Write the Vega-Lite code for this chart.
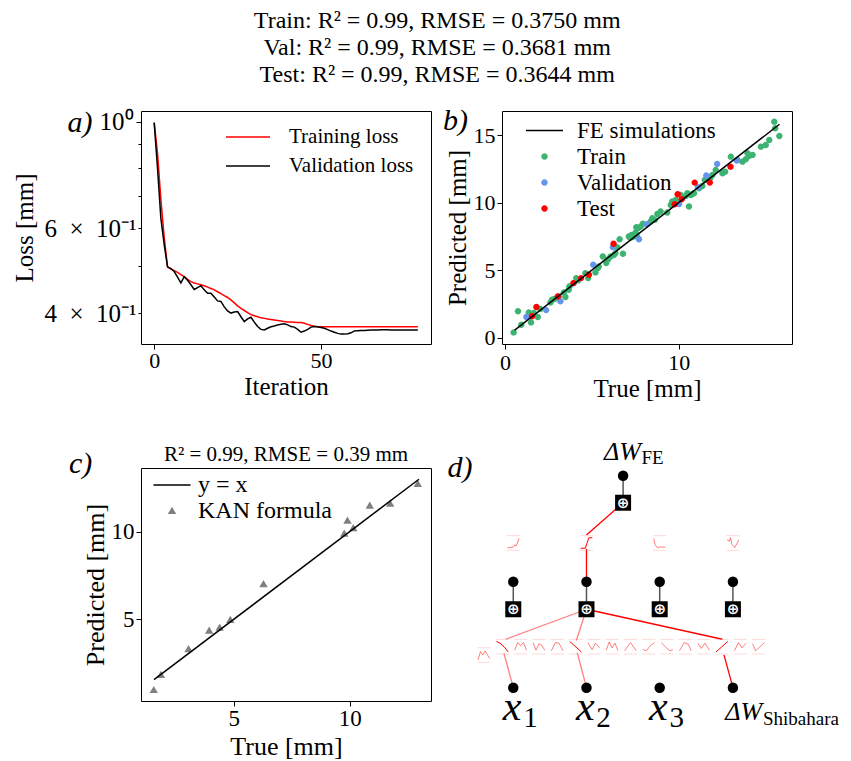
{
"$schema":"https://vega.github.io/schema/vega-lite/v6.json",
"padding":{"left":11,"top":9,"right":5,"bottom":5},
"title":{"text":["Train: R² = 0.99, RMSE = 0.3750 mm","Val: R² = 0.99, RMSE = 0.3681 mm","Test: R² = 0.99, RMSE = 0.3644 mm"],"font":"Liberation Serif","fontSize":24,"fontWeight":"normal","lineHeight":27,"anchor":"middle","offset":18,"dx":12,"color":"#000"},
"columns":2,
"spacing":{"row":124,"column":71},
"bounds":"flush",
"resolve":{"scale":{"x":"independent","y":"independent","color":"independent","shape":"independent","opacity":"independent"},"legend":{"color":"independent","shape":"independent"}},
"datasets":{
"loss":[
{"iter":0,"loss":0.995,"series":"Training loss"},{"iter":1,"loss":0.86,"series":"Training loss"},{"iter":2,"loss":0.69,"series":"Training loss"},{"iter":3,"loss":0.575,"series":"Training loss"},{"iter":4,"loss":0.499,"series":"Training loss"},{"iter":5,"loss":0.494,"series":"Training loss"},{"iter":6,"loss":0.49,"series":"Training loss"},{"iter":7,"loss":0.486,"series":"Training loss"},{"iter":8,"loss":0.481,"series":"Training loss"},{"iter":9,"loss":0.476,"series":"Training loss"},
{"iter":10,"loss":0.47,"series":"Training loss"},{"iter":11,"loss":0.465,"series":"Training loss"},{"iter":12,"loss":0.462,"series":"Training loss"},{"iter":13,"loss":0.46,"series":"Training loss"},{"iter":14,"loss":0.458,"series":"Training loss"},{"iter":15,"loss":0.456,"series":"Training loss"},{"iter":16,"loss":0.453,"series":"Training loss"},{"iter":17,"loss":0.45,"series":"Training loss"},{"iter":18,"loss":0.447,"series":"Training loss"},{"iter":19,"loss":0.443,"series":"Training loss"},
{"iter":20,"loss":0.439,"series":"Training loss"},{"iter":21,"loss":0.435,"series":"Training loss"},{"iter":22,"loss":0.431,"series":"Training loss"},{"iter":23,"loss":0.426,"series":"Training loss"},{"iter":24,"loss":0.42,"series":"Training loss"},{"iter":25,"loss":0.414,"series":"Training loss"},{"iter":26,"loss":0.409,"series":"Training loss"},{"iter":27,"loss":0.405,"series":"Training loss"},{"iter":28,"loss":0.401,"series":"Training loss"},{"iter":29,"loss":0.397,"series":"Training loss"},
{"iter":30,"loss":0.395,"series":"Training loss"},{"iter":31,"loss":0.393,"series":"Training loss"},{"iter":32,"loss":0.391,"series":"Training loss"},{"iter":33,"loss":0.39,"series":"Training loss"},{"iter":34,"loss":0.389,"series":"Training loss"},{"iter":35,"loss":0.388,"series":"Training loss"},{"iter":36,"loss":0.387,"series":"Training loss"},{"iter":37,"loss":0.386,"series":"Training loss"},{"iter":38,"loss":0.385,"series":"Training loss"},{"iter":39,"loss":0.384,"series":"Training loss"},
{"iter":40,"loss":0.3835,"series":"Training loss"},{"iter":41,"loss":0.3832,"series":"Training loss"},{"iter":42,"loss":0.383,"series":"Training loss"},{"iter":43,"loss":0.3826,"series":"Training loss"},{"iter":44,"loss":0.3822,"series":"Training loss"},{"iter":45,"loss":0.381,"series":"Training loss"},{"iter":46,"loss":0.379,"series":"Training loss"},{"iter":47,"loss":0.377,"series":"Training loss"},{"iter":48,"loss":0.3757,"series":"Training loss"},{"iter":49,"loss":0.3749,"series":"Training loss"},
{"iter":50,"loss":0.3746,"series":"Training loss"},{"iter":51,"loss":0.3746,"series":"Training loss"},{"iter":52,"loss":0.3746,"series":"Training loss"},{"iter":53,"loss":0.3746,"series":"Training loss"},{"iter":54,"loss":0.3746,"series":"Training loss"},{"iter":55,"loss":0.3746,"series":"Training loss"},{"iter":56,"loss":0.3747,"series":"Training loss"},{"iter":57,"loss":0.3747,"series":"Training loss"},{"iter":58,"loss":0.3747,"series":"Training loss"},{"iter":59,"loss":0.3747,"series":"Training loss"},
{"iter":60,"loss":0.3748,"series":"Training loss"},{"iter":61,"loss":0.3748,"series":"Training loss"},{"iter":62,"loss":0.3748,"series":"Training loss"},{"iter":63,"loss":0.3748,"series":"Training loss"},{"iter":64,"loss":0.3748,"series":"Training loss"},{"iter":65,"loss":0.3748,"series":"Training loss"},{"iter":66,"loss":0.3748,"series":"Training loss"},{"iter":67,"loss":0.3748,"series":"Training loss"},{"iter":68,"loss":0.3748,"series":"Training loss"},{"iter":69,"loss":0.3748,"series":"Training loss"},
{"iter":70,"loss":0.3748,"series":"Training loss"},{"iter":71,"loss":0.3748,"series":"Training loss"},{"iter":72,"loss":0.3748,"series":"Training loss"},{"iter":73,"loss":0.3748,"series":"Training loss"},{"iter":74,"loss":0.3748,"series":"Training loss"},{"iter":75,"loss":0.3748,"series":"Training loss"},{"iter":76,"loss":0.3748,"series":"Training loss"},{"iter":77,"loss":0.3748,"series":"Training loss"},{"iter":78,"loss":0.3748,"series":"Training loss"},{"iter":79,"loss":0.3748,"series":"Training loss"},
{"iter":0,"loss":0.995,"series":"Validation loss"},{"iter":1,"loss":0.8,"series":"Validation loss"},{"iter":2,"loss":0.63,"series":"Validation loss"},{"iter":3,"loss":0.555,"series":"Validation loss"},{"iter":4,"loss":0.499,"series":"Validation loss"},{"iter":5,"loss":0.495,"series":"Validation loss"},{"iter":6,"loss":0.488,"series":"Validation loss"},{"iter":7,"loss":0.475,"series":"Validation loss"},{"iter":8,"loss":0.462,"series":"Validation loss"},{"iter":9,"loss":0.476,"series":"Validation loss"},
{"iter":10,"loss":0.468,"series":"Validation loss"},{"iter":11,"loss":0.458,"series":"Validation loss"},{"iter":12,"loss":0.448,"series":"Validation loss"},{"iter":13,"loss":0.452,"series":"Validation loss"},{"iter":14,"loss":0.456,"series":"Validation loss"},{"iter":15,"loss":0.447,"series":"Validation loss"},{"iter":16,"loss":0.44,"series":"Validation loss"},{"iter":17,"loss":0.44,"series":"Validation loss"},{"iter":18,"loss":0.432,"series":"Validation loss"},{"iter":19,"loss":0.424,"series":"Validation loss"},
{"iter":20,"loss":0.423,"series":"Validation loss"},{"iter":21,"loss":0.412,"series":"Validation loss"},{"iter":22,"loss":0.404,"series":"Validation loss"},{"iter":23,"loss":0.4,"series":"Validation loss"},{"iter":24,"loss":0.402,"series":"Validation loss"},{"iter":25,"loss":0.403,"series":"Validation loss"},{"iter":26,"loss":0.393,"series":"Validation loss"},{"iter":27,"loss":0.384,"series":"Validation loss"},{"iter":28,"loss":0.389,"series":"Validation loss"},{"iter":29,"loss":0.392,"series":"Validation loss"},
{"iter":30,"loss":0.383,"series":"Validation loss"},{"iter":31,"loss":0.375,"series":"Validation loss"},{"iter":32,"loss":0.37,"series":"Validation loss"},{"iter":33,"loss":0.369,"series":"Validation loss"},{"iter":34,"loss":0.372,"series":"Validation loss"},{"iter":35,"loss":0.3746,"series":"Validation loss"},{"iter":36,"loss":0.376,"series":"Validation loss"},{"iter":37,"loss":0.378,"series":"Validation loss"},{"iter":38,"loss":0.379,"series":"Validation loss"},{"iter":39,"loss":0.38,"series":"Validation loss"},
{"iter":40,"loss":0.378,"series":"Validation loss"},{"iter":41,"loss":0.375,"series":"Validation loss"},{"iter":42,"loss":0.374,"series":"Validation loss"},{"iter":43,"loss":0.37,"series":"Validation loss"},{"iter":44,"loss":0.365,"series":"Validation loss"},{"iter":45,"loss":0.367,"series":"Validation loss"},{"iter":46,"loss":0.37,"series":"Validation loss"},{"iter":47,"loss":0.374,"series":"Validation loss"},{"iter":48,"loss":0.375,"series":"Validation loss"},{"iter":49,"loss":0.3745,"series":"Validation loss"},
{"iter":50,"loss":0.3733,"series":"Validation loss"},{"iter":51,"loss":0.372,"series":"Validation loss"},{"iter":52,"loss":0.3695,"series":"Validation loss"},{"iter":53,"loss":0.367,"series":"Validation loss"},{"iter":54,"loss":0.365,"series":"Validation loss"},{"iter":55,"loss":0.363,"series":"Validation loss"},{"iter":56,"loss":0.3617,"series":"Validation loss"},{"iter":57,"loss":0.3617,"series":"Validation loss"},{"iter":58,"loss":0.3625,"series":"Validation loss"},{"iter":59,"loss":0.364,"series":"Validation loss"},
{"iter":60,"loss":0.3672,"series":"Validation loss"},{"iter":61,"loss":0.3678,"series":"Validation loss"},{"iter":62,"loss":0.368,"series":"Validation loss"},{"iter":63,"loss":0.368,"series":"Validation loss"},{"iter":64,"loss":0.3683,"series":"Validation loss"},{"iter":65,"loss":0.3687,"series":"Validation loss"},{"iter":66,"loss":0.369,"series":"Validation loss"},{"iter":67,"loss":0.369,"series":"Validation loss"},{"iter":68,"loss":0.3692,"series":"Validation loss"},{"iter":69,"loss":0.3695,"series":"Validation loss"},
{"iter":70,"loss":0.3693,"series":"Validation loss"},{"iter":71,"loss":0.369,"series":"Validation loss"},{"iter":72,"loss":0.369,"series":"Validation loss"},{"iter":73,"loss":0.3688,"series":"Validation loss"},{"iter":74,"loss":0.3688,"series":"Validation loss"},{"iter":75,"loss":0.3687,"series":"Validation loss"},{"iter":76,"loss":0.3687,"series":"Validation loss"},{"iter":77,"loss":0.3687,"series":"Validation loss"},{"iter":78,"loss":0.3687,"series":"Validation loss"},{"iter":79,"loss":0.3687,"series":"Validation loss"}
],
"pred":[
{"t":0.5,"p":0.39,"set":"Train"},{"t":0.75,"p":1.95,"set":"Train"},{"t":0.94,"p":0.96,"set":"Train"},{"t":1.37,"p":1.87,"set":"Train"},{"t":1.5,"p":1.13,"set":"Train"},{"t":1.66,"p":1.82,"set":"Train"},{"t":1.89,"p":1.53,"set":"Train"},{"t":2.04,"p":2.12,"set":"Train"},{"t":2.62,"p":2.61,"set":"Train"},{"t":2.71,"p":2.81,"set":"Train"},
{"t":2.85,"p":2.86,"set":"Train"},{"t":3.1,"p":3.05,"set":"Train"},{"t":3.39,"p":3.35,"set":"Train"},{"t":3.48,"p":3.01,"set":"Train"},{"t":3.67,"p":3.55,"set":"Train"},{"t":3.71,"p":3.79,"set":"Train"},{"t":3.96,"p":4.04,"set":"Train"},{"t":4.1,"p":4.41,"set":"Train"},{"t":4.21,"p":4.24,"set":"Train"},{"t":4.63,"p":4.78,"set":"Train"},
{"t":4.79,"p":4.41,"set":"Train"},{"t":5.21,"p":4.83,"set":"Train"},{"t":5.35,"p":5.15,"set":"Train"},{"t":5.4,"p":5.27,"set":"Train"},{"t":5.63,"p":6.01,"set":"Train"},{"t":5.83,"p":5.52,"set":"Train"},{"t":5.94,"p":5.81,"set":"Train"},{"t":6.08,"p":6.01,"set":"Train"},{"t":6.27,"p":6.11,"set":"Train"},{"t":6.36,"p":6.26,"set":"Train"},
{"t":6.46,"p":6.7,"set":"Train"},{"t":6.6,"p":7.29,"set":"Train"},{"t":6.79,"p":6.21,"set":"Train"},{"t":7.13,"p":7.49,"set":"Train"},{"t":7.2,"p":7.4,"set":"Train"},{"t":7.29,"p":7.61,"set":"Train"},{"t":7.35,"p":7.45,"set":"Train"},{"t":7.42,"p":7.54,"set":"Train"},{"t":7.52,"p":7.79,"set":"Train"},{"t":7.56,"p":8.18,"set":"Train"},
{"t":7.6,"p":7.5,"set":"Train"},{"t":7.67,"p":8.11,"set":"Train"},{"t":7.81,"p":8.23,"set":"Train"},{"t":7.94,"p":8.43,"set":"Train"},{"t":8.38,"p":8.6,"set":"Train"},{"t":8.48,"p":8.84,"set":"Train"},{"t":8.63,"p":8.72,"set":"Train"},{"t":8.77,"p":9.16,"set":"Train"},{"t":8.96,"p":9.34,"set":"Train"},{"t":9.34,"p":9.26,"set":"Train"},
{"t":9.54,"p":9.83,"set":"Train"},{"t":9.63,"p":10.08,"set":"Train"},{"t":9.83,"p":10.2,"set":"Train"},{"t":10.11,"p":10.57,"set":"Train"},{"t":10.4,"p":10.49,"set":"Train"},{"t":10.5,"p":10.69,"set":"Train"},{"t":10.59,"p":9.71,"set":"Train"},{"t":10.69,"p":10.57,"set":"Train"},{"t":10.79,"p":10.64,"set":"Train"},{"t":10.88,"p":10.69,"set":"Train"},
{"t":11.17,"p":11.06,"set":"Train"},{"t":11.36,"p":11.23,"set":"Train"},{"t":11.5,"p":11.68,"set":"Train"},{"t":11.81,"p":11.8,"set":"Train"},{"t":11.94,"p":12.05,"set":"Train"},{"t":12.13,"p":12.42,"set":"Train"},{"t":12.52,"p":12.17,"set":"Train"},{"t":12.67,"p":12.29,"set":"Train"},{"t":13.0,"p":13.4,"set":"Train"},{"t":13.38,"p":13.16,"set":"Train"},
{"t":13.67,"p":13.03,"set":"Train"},{"t":13.86,"p":13.21,"set":"Train"},{"t":13.96,"p":13.65,"set":"Train"},{"t":14.05,"p":13.45,"set":"Train"},{"t":14.25,"p":13.53,"set":"Train"},{"t":14.73,"p":14.14,"set":"Train"},{"t":15.01,"p":14.26,"set":"Train"},{"t":15.21,"p":14.63,"set":"Train"},{"t":15.5,"p":15.99,"set":"Train"},{"t":15.55,"p":15.5,"set":"Train"},
{"t":15.79,"p":14.93,"set":"Train"},
{"t":1.23,"p":1.53,"set":"Validation"},{"t":2.37,"p":2.04,"set":"Validation"},{"t":3.19,"p":2.69,"set":"Validation"},{"t":5.08,"p":5.4,"set":"Validation"},{"t":6.21,"p":6.7,"set":"Validation"},{"t":7.71,"p":7.29,"set":"Validation"},{"t":8.17,"p":8.4,"set":"Validation"},{"t":10.02,"p":9.9,"set":"Validation"},{"t":11.11,"p":11.14,"set":"Validation"},{"t":11.59,"p":12.0,"set":"Validation"},{"t":12.21,"p":12.86,"set":"Validation"},{"t":13.34,"p":13.11,"set":"Validation"},
{"t":1.56,"p":1.58,"set":"Test"},{"t":1.81,"p":2.27,"set":"Test"},{"t":3.04,"p":3.05,"set":"Test"},{"t":3.94,"p":4.04,"set":"Test"},{"t":4.38,"p":4.41,"set":"Test"},{"t":4.83,"p":4.66,"set":"Test"},{"t":6.25,"p":6.95,"set":"Test"},{"t":9.77,"p":9.88,"set":"Test"},{"t":9.94,"p":10.62,"set":"Test"},{"t":10.17,"p":10.25,"set":"Test"},{"t":10.92,"p":11.48,"set":"Test"},{"t":11.79,"p":11.48,"set":"Test"},{"t":12.98,"p":12.66,"set":"Test"}
],
"feline":[{"t":0.56,"p":0.56},{"t":15.8,"p":15.8}],
"kan":[
{"t":1.55,"p":0.96,"set":"KAN formula"},{"t":1.86,"p":1.82,"set":"KAN formula"},{"t":3.05,"p":3.29,"set":"KAN formula"},{"t":3.94,"p":4.35,"set":"KAN formula"},{"t":4.39,"p":4.52,"set":"KAN formula"},{"t":4.85,"p":4.96,"set":"KAN formula"},{"t":6.28,"p":7.0,"set":"KAN formula"},{"t":9.76,"p":9.87,"set":"KAN formula"},{"t":9.9,"p":10.61,"set":"KAN formula"},{"t":10.15,"p":10.19,"set":"KAN formula"},{"t":10.86,"p":11.47,"set":"KAN formula"},{"t":11.74,"p":11.58,"set":"KAN formula"},{"t":12.93,"p":12.71,"set":"KAN formula"}
],
"kanline":[{"t":1.56,"p":1.56},{"t":12.98,"p":12.98}],
"clabels":[{"lx":-1.6,"ly":13.86,"lab":"c)","role":"panel"},{"lx":7.25,"ly":13.995,"lab":"R² = 0.99, RMSE = 0.39 mm","role":"title"}],
"edges":[
{"x":1.5,"y":1.745,"x2":1.0,"y2":1.44,"str":"strong"},
{"x":1.0,"y":1.31,"x2":1.0,"y2":1.0,"str":"strong"},
{"x":1.0,"y":0.74,"x2":-0.104,"y2":0.457,"str":"faint"},
{"x":1.0,"y":0.74,"x2":0.861,"y2":0.445,"str":"faint"},
{"x":1.0,"y":0.74,"x2":2.855,"y2":0.457,"str":"strong"},
{"x":-0.127,"y":0.325,"x2":0,"y2":0,"str":"faint"},
{"x":0.874,"y":0.33,"x2":1.0,"y2":0,"str":"faint"},
{"x":2.878,"y":0.31,"x2":3.0,"y2":0,"str":"strong"}
],
"iframes":[
{"xa":-0.09,"xb":0.09,"ya":1.296,"yb":1.434},{"xa":0.91,"xb":1.09,"ya":1.296,"yb":1.434},{"xa":1.91,"xb":2.09,"ya":1.296,"yb":1.434},{"xa":2.91,"xb":3.09,"ya":1.296,"yb":1.434},
{"xa":-0.49,"xb":-0.31,"ya":0.239,"yb":0.377},
{"xa":-0.24,"xb":-0.06,"ya":0.318,"yb":0.456},{"xa":0.01,"xb":0.19,"ya":0.318,"yb":0.456},{"xa":0.26,"xb":0.44,"ya":0.318,"yb":0.456},{"xa":0.51,"xb":0.69,"ya":0.318,"yb":0.456},{"xa":0.76,"xb":0.94,"ya":0.318,"yb":0.456},{"xa":1.01,"xb":1.19,"ya":0.318,"yb":0.456},{"xa":1.26,"xb":1.44,"ya":0.318,"yb":0.456},{"xa":1.51,"xb":1.69,"ya":0.318,"yb":0.456},{"xa":1.76,"xb":1.94,"ya":0.318,"yb":0.456},{"xa":2.01,"xb":2.19,"ya":0.318,"yb":0.456},{"xa":2.26,"xb":2.44,"ya":0.318,"yb":0.456},{"xa":2.51,"xb":2.69,"ya":0.318,"yb":0.456},{"xa":2.76,"xb":2.94,"ya":0.318,"yb":0.456},{"xa":3.01,"xb":3.19,"ya":0.318,"yb":0.456},{"xa":3.26,"xb":3.44,"ya":0.318,"yb":0.456}
],
"icons":[
{"icon":"H0","ord":0,"x":-0.08,"y":1.321,"str":"faint"},{"icon":"H0","ord":1,"x":0,"y":1.3265,"str":"faint"},{"icon":"H0","ord":2,"x":0.024,"y":1.3485,"str":"faint"},{"icon":"H0","ord":3,"x":0.04,"y":1.3375,"str":"faint"},{"icon":"H0","ord":4,"x":0.08,"y":1.409,"str":"faint"},
{"icon":"H1","ord":0,"x":0.92,"y":1.3155,"str":"strong"},{"icon":"H1","ord":1,"x":0.984,"y":1.3155,"str":"strong"},{"icon":"H1","ord":2,"x":1.032,"y":1.4145,"str":"strong"},{"icon":"H1","ord":3,"x":1.08,"y":1.4145,"str":"strong"},
{"icon":"H2","ord":0,"x":1.92,"y":1.409,"str":"faint"},{"icon":"H2","ord":1,"x":1.936,"y":1.3485,"str":"faint"},{"icon":"H2","ord":2,"x":1.968,"y":1.321,"str":"faint"},{"icon":"H2","ord":3,"x":2.0,"y":1.3265,"str":"faint"},{"icon":"H2","ord":4,"x":2.08,"y":1.3265,"str":"faint"},
{"icon":"H3","ord":0,"x":2.92,"y":1.398,"str":"faint"},{"icon":"H3","ord":1,"x":2.952,"y":1.3815,"str":"faint"},{"icon":"H3","ord":2,"x":2.968,"y":1.4145,"str":"faint"},{"icon":"H3","ord":3,"x":2.984,"y":1.354,"str":"faint"},{"icon":"H3","ord":4,"x":3.024,"y":1.321,"str":"faint"},{"icon":"H3","ord":5,"x":3.08,"y":1.3925,"str":"faint"},
{"icon":"k0","ord":0,"x":-0.48,"y":0.264,"str":"faint"},{"icon":"k0","ord":1,"x":-0.448,"y":0.341,"str":"faint"},{"icon":"k0","ord":2,"x":-0.416,"y":0.308,"str":"faint"},{"icon":"k0","ord":3,"x":-0.384,"y":0.3465,"str":"faint"},{"icon":"k0","ord":4,"x":-0.352,"y":0.308,"str":"faint"},{"icon":"k0","ord":5,"x":-0.32,"y":0.275,"str":"faint"},
{"icon":"k1","ord":0,"x":-0.23,"y":0.4365,"str":"strong"},{"icon":"k1","ord":1,"x":-0.182,"y":0.42,"str":"strong"},{"icon":"k1","ord":2,"x":-0.126,"y":0.387,"str":"strong"},{"icon":"k1","ord":3,"x":-0.07,"y":0.3375,"str":"strong"},
{"icon":"k2","ord":0,"x":0.02,"y":0.354,"str":"faint"},{"icon":"k2","ord":1,"x":0.06,"y":0.4255,"str":"faint"},{"icon":"k2","ord":2,"x":0.1,"y":0.398,"str":"faint"},{"icon":"k2","ord":3,"x":0.14,"y":0.4255,"str":"faint"},{"icon":"k2","ord":4,"x":0.18,"y":0.354,"str":"faint"},
{"icon":"k3","ord":0,"x":0.27,"y":0.4255,"str":"faint"},{"icon":"k3","ord":1,"x":0.31,"y":0.354,"str":"faint"},{"icon":"k3","ord":2,"x":0.35,"y":0.4145,"str":"faint"},{"icon":"k3","ord":3,"x":0.39,"y":0.398,"str":"faint"},{"icon":"k3","ord":4,"x":0.43,"y":0.354,"str":"faint"},
{"icon":"k4","ord":0,"x":0.52,"y":0.3485,"str":"faint"},{"icon":"k4","ord":1,"x":0.576,"y":0.4255,"str":"faint"},{"icon":"k4","ord":2,"x":0.624,"y":0.42,"str":"faint"},{"icon":"k4","ord":3,"x":0.68,"y":0.3485,"str":"faint"},
{"icon":"k5","ord":0,"x":0.77,"y":0.4365,"str":"strong"},{"icon":"k5","ord":1,"x":0.93,"y":0.3375,"str":"strong"},
{"icon":"k6","ord":0,"x":1.02,"y":0.4255,"str":"faint"},{"icon":"k6","ord":1,"x":1.076,"y":0.3595,"str":"faint"},{"icon":"k6","ord":2,"x":1.124,"y":0.42,"str":"faint"},{"icon":"k6","ord":3,"x":1.18,"y":0.376,"str":"faint"},
{"icon":"k7","ord":0,"x":1.27,"y":0.354,"str":"faint"},{"icon":"k7","ord":1,"x":1.31,"y":0.431,"str":"faint"},{"icon":"k7","ord":2,"x":1.35,"y":0.376,"str":"faint"},{"icon":"k7","ord":3,"x":1.39,"y":0.42,"str":"faint"},{"icon":"k7","ord":4,"x":1.43,"y":0.3485,"str":"faint"},
{"icon":"k8","ord":0,"x":1.52,"y":0.3485,"str":"faint"},{"icon":"k8","ord":1,"x":1.6,"y":0.4255,"str":"faint"},{"icon":"k8","ord":2,"x":1.68,"y":0.3485,"str":"faint"},
{"icon":"k9","ord":0,"x":1.77,"y":0.3595,"str":"faint"},{"icon":"k9","ord":1,"x":1.818,"y":0.3485,"str":"faint"},{"icon":"k9","ord":2,"x":1.874,"y":0.398,"str":"faint"},{"icon":"k9","ord":3,"x":1.93,"y":0.4255,"str":"faint"},
{"icon":"k10","ord":0,"x":2.02,"y":0.4255,"str":"faint"},{"icon":"k10","ord":1,"x":2.1,"y":0.3705,"str":"faint"},{"icon":"k10","ord":2,"x":2.14,"y":0.3485,"str":"faint"},{"icon":"k10","ord":3,"x":2.18,"y":0.3595,"str":"faint"},
{"icon":"k11","ord":0,"x":2.27,"y":0.3485,"str":"faint"},{"icon":"k11","ord":1,"x":2.334,"y":0.4255,"str":"faint"},{"icon":"k11","ord":2,"x":2.39,"y":0.409,"str":"faint"},{"icon":"k11","ord":3,"x":2.43,"y":0.3485,"str":"faint"},
{"icon":"k12","ord":0,"x":2.52,"y":0.42,"str":"faint"},{"icon":"k12","ord":1,"x":2.568,"y":0.3705,"str":"faint"},{"icon":"k12","ord":2,"x":2.616,"y":0.42,"str":"faint"},{"icon":"k12","ord":3,"x":2.68,"y":0.354,"str":"faint"},
{"icon":"k13","ord":0,"x":2.77,"y":0.3375,"str":"strong"},{"icon":"k13","ord":1,"x":2.93,"y":0.4365,"str":"strong"},
{"icon":"k14","ord":0,"x":3.02,"y":0.3485,"str":"faint"},{"icon":"k14","ord":1,"x":3.076,"y":0.4255,"str":"faint"},{"icon":"k14","ord":2,"x":3.124,"y":0.376,"str":"faint"},{"icon":"k14","ord":3,"x":3.18,"y":0.42,"str":"faint"},
{"icon":"k15","ord":0,"x":3.27,"y":0.4145,"str":"faint"},{"icon":"k15","ord":1,"x":3.31,"y":0.3485,"str":"faint"},{"icon":"k15","ord":2,"x":3.43,"y":0.4255,"str":"faint"}
],
"stems":[{"x":1.5,"y":2.0,"y2":1.745},{"x":0,"y":1.0,"y2":0.74},{"x":1,"y":1.0,"y2":0.74},{"x":2,"y":1.0,"y2":0.74},{"x":3,"y":1.0,"y2":0.74}],
"nodes":[{"x":1.5,"y":2.0},{"x":0,"y":1.0},{"x":1,"y":1.0},{"x":2,"y":1.0},{"x":3,"y":1.0},{"x":0,"y":0},{"x":1,"y":0},{"x":2,"y":0},{"x":3,"y":0}],
"boxes":[{"x":1.5,"y":1.745,"sym":"⊕"},{"x":0,"y":0.74,"sym":"⊕"},{"x":1,"y":0.74,"sym":"⊕"},{"x":2,"y":0.74,"sym":"⊕"},{"x":3,"y":0.74,"sym":"⊕"}],
"dlabels":[
{"x":0.11,"y":-0.305,"text":"x","role":"var"},{"x":1.11,"y":-0.305,"text":"x","role":"var"},{"x":2.11,"y":-0.305,"text":"x","role":"var"},
{"x":0.135,"y":-0.368,"text":"1","role":"sub"},{"x":1.135,"y":-0.368,"text":"2","role":"sub"},{"x":2.135,"y":-0.368,"text":"3","role":"sub"},
{"x":3.4,"y":-0.305,"text":"ΔW","role":"delta"},{"x":1.745,"y":2.148,"text":"ΔW","role":"delta"},
{"x":3.41,"y":-0.352,"text":"Shibahara","role":"subw"},{"x":1.75,"y":2.11,"text":"FE","role":"subw"},
{"x":-0.728,"y":2.073,"text":"d)","role":"panel"}
]
},
"concat":[
{
"width":290,"height":233,
"layer":[
{"data":{"name":"loss"},
"mark":{"type":"line","strokeWidth":1.5},
"encoding":{
"x":{"field":"iter","type":"quantitative","title":"Iteration","scale":{"domain":[-3.95,82.95],"nice":false,"zero":false},"axis":{"values":[0,50]}},
"y":{"field":"loss","type":"quantitative","title":"Loss [mm]","scale":{"type":"log","domain":[0.345,1.052],"nice":false},"axis":{"values":[0.4,0.5,0.6,0.7,0.8,0.9,1],"labelFontSize":25,"labelAlign":"left","titlePadding":7,"labelPadding":{"condition":{"test":"datum.value == 1","value":37},"value":94},"labelExpr":"datum.value == 1 ? '10⁰' : datum.value == 0.6 ? '6\u2002×\u200210⁻¹' : datum.value == 0.4 ? '4\u2002×\u200210⁻¹' : ''","tickSize":{"condition":{"test":"datum.value == 1","value":5},"value":3}}},
"color":{"field":"series","type":"nominal","scale":{"domain":["Training loss","Validation loss"],"range":["#ff0000","#000000"]},"legend":{"orient":"none","legendX":96,"legendY":15,"title":null,"symbolType":"M-2.2,0H2.2","symbolSize":400,"symbolStrokeWidth":1.5,"labelFontSize":21,"labelOffset":30,"rowPadding":8,"padding":0}}
}},
{"data":{"values":[{"lx":-22.2,"ly":0.9938,"lab":"a)"}]},
"mark":{"type":"text","fontSize":30,"fontStyle":"italic","font":"Liberation Serif","baseline":"middle","align":"center"},
"encoding":{"x":{"field":"lx","type":"quantitative","title":"Iteration"},"y":{"field":"ly","type":"quantitative","title":"Loss [mm]"},"text":{"field":"lab"}}}
]
},
{
"width":290,"height":233,
"layer":[
{"data":{"name":"pred"},
"mark":{"type":"point","filled":true,"opacity":1,"size":400,"strokeWidth":0},
"encoding":{
"x":{"field":"t","type":"quantitative","title":"True [mm]","scale":{"domain":[-0.17,16.52],"nice":false,"zero":false},"axis":{"values":[0,10],"labelPadding":3}},
"y":{"field":"p","type":"quantitative","title":"Predicted [mm]","scale":{"domain":[-0.47,16.78],"nice":false,"zero":false},"axis":{"values":[0,5,10,15]}},
"color":{"field":"set","type":"nominal","scale":{"domain":["FE simulations","Train","Validation","Test"],"range":["#000000","#3cb371","#6495ed","#ff0000"]},"legend":{"orient":"none","legendX":31,"legendY":8,"title":null,"symbolSize":400,"labelFontSize":23,"labelOffset":21,"rowPadding":2,"padding":0}},
"shape":{"field":"set","type":"nominal","scale":{"domain":["FE simulations","Train","Validation","Test"],"range":["M-1.85,-0.075H1.85V0.075H-1.85Z","M-0.32,0A0.32,0.32,0,1,1,0.32,0A0.32,0.32,0,1,1,-0.32,0Z","M-0.32,0A0.32,0.32,0,1,1,0.32,0A0.32,0.32,0,1,1,-0.32,0Z","M-0.32,0A0.32,0.32,0,1,1,0.32,0A0.32,0.32,0,1,1,-0.32,0Z"]},"legend":{"orient":"none","legendX":31,"legendY":8,"title":null,"symbolSize":400,"labelFontSize":23,"labelOffset":21,"rowPadding":2,"padding":0}}
}},
{"data":{"name":"feline"},
"mark":{"type":"line","color":"#000000","strokeWidth":1.5},
"encoding":{"x":{"field":"t","type":"quantitative","title":"True [mm]"},"y":{"field":"p","type":"quantitative","title":"Predicted [mm]"}}},
{"data":{"values":[{"lx":-2.84,"ly":16.04,"lab":"b)"}]},
"mark":{"type":"text","fontSize":30,"fontStyle":"italic","font":"Liberation Serif","baseline":"middle","align":"center"},
"encoding":{"x":{"field":"lx","type":"quantitative","title":"True [mm]"},"y":{"field":"ly","type":"quantitative","title":"Predicted [mm]"},"text":{"field":"lab"}}}
]
},
{
"width":290,"height":233,
"layer":[
{"data":{"name":"kan"},
"mark":{"type":"point","filled":true,"opacity":1,"size":400,"strokeWidth":0},
"encoding":{
"x":{"field":"t","type":"quantitative","title":"True [mm]","scale":{"domain":[1.0,13.5],"nice":false,"zero":false},"axis":{"values":[5,10],"labelFontSize":23,"titleFontSize":26}},
"y":{"field":"p","type":"quantitative","title":"Predicted [mm]","scale":{"domain":[0.34,13.62],"nice":false,"zero":false},"axis":{"values":[5,10],"labelFontSize":23,"titleFontSize":26}},
"color":{"field":"set","type":"nominal","scale":{"domain":["y = x","KAN formula"],"range":["#000000","#808080"]},"legend":{"orient":"none","legendX":19,"legendY":5,"title":null,"symbolSize":400,"labelFontSize":24,"labelOffset":14,"rowPadding":2,"padding":0}},
"shape":{"field":"set","type":"nominal","scale":{"domain":["y = x","KAN formula"],"range":["M-1.85,-0.075H1.85V0.075H-1.85Z","M0,-0.42L0.42,0.3L-0.42,0.3Z"]},"legend":{"orient":"none","legendX":19,"legendY":5,"title":null,"symbolSize":400,"labelFontSize":24,"labelOffset":14,"rowPadding":2,"padding":0}}
}},
{"data":{"name":"kanline"},
"mark":{"type":"line","color":"#000000","strokeWidth":1.5},
"encoding":{"x":{"field":"t","type":"quantitative","title":"True [mm]"},"y":{"field":"p","type":"quantitative","title":"Predicted [mm]"}}},
{"data":{"name":"clabels"},
"transform":[{"filter":"datum.role == 'panel'"}],
"mark":{"type":"text","fontSize":30,"fontStyle":"italic","font":"Liberation Serif","baseline":"middle","align":"center"},
"encoding":{"x":{"field":"lx","type":"quantitative","title":"True [mm]"},"y":{"field":"ly","type":"quantitative","title":"Predicted [mm]"},"text":{"field":"lab"}}},
{"data":{"name":"clabels"},
"transform":[{"filter":"datum.role == 'title'"}],
"mark":{"type":"text","fontSize":21,"font":"Liberation Serif","baseline":"alphabetic","align":"center"},
"encoding":{"x":{"field":"lx","type":"quantitative","title":"True [mm]"},"y":{"field":"ly","type":"quantitative","title":"Predicted [mm]"},"text":{"field":"lab"}}}
]
},
{
"width":290,"height":233,
"view":{"stroke":null},
"layer":[
{"data":{"name":"edges"},
"mark":{"type":"rule","color":"#ff0000","strokeWidth":1.3},
"encoding":{
"x":{"field":"x","type":"quantitative","scale":{"domain":[-0.154,3.807],"nice":false,"zero":false},"axis":null},
"y":{"field":"y","type":"quantitative","scale":{"domain":[-0.1255,2.0726],"nice":false,"zero":false},"axis":null},
"x2":{"field":"x2"},"y2":{"field":"y2"},
"opacity":{"field":"str","type":"nominal","scale":{"domain":["strong","faint"],"range":[1,0.5]},"legend":null}
}},
{"data":{"name":"iframes"},
"mark":{"type":"rule","color":"#ff8080","strokeWidth":1,"opacity":0.3},
"encoding":{"x":{"field":"xa","type":"quantitative","axis":null},"x2":{"field":"xb"},"y":{"field":"ya","type":"quantitative","axis":null}}},
{"data":{"name":"iframes"},
"mark":{"type":"rule","color":"#ff8080","strokeWidth":1,"opacity":0.3},
"encoding":{"x":{"field":"xa","type":"quantitative","axis":null},"x2":{"field":"xb"},"y":{"field":"yb","type":"quantitative","axis":null}}},
{"data":{"name":"icons"},
"mark":{"type":"line","color":"#ff0000","strokeWidth":1},
"encoding":{
"x":{"field":"x","type":"quantitative","axis":null},
"y":{"field":"y","type":"quantitative","axis":null},
"detail":{"field":"icon","type":"nominal"},
"order":{"field":"ord","type":"quantitative"},
"opacity":{"field":"str","type":"nominal","scale":{"domain":["strong","faint"],"range":[1,0.5]},"legend":null}
}},
{"data":{"name":"stems"},
"mark":{"type":"rule","color":"#555555","strokeWidth":1.5},
"encoding":{"x":{"field":"x","type":"quantitative","axis":null},"y":{"field":"y","type":"quantitative","axis":null},"y2":{"field":"y2"}}},
{"data":{"name":"nodes"},
"mark":{"type":"point","shape":"circle","filled":true,"color":"#000000","opacity":1,"size":110},
"encoding":{"x":{"field":"x","type":"quantitative","axis":null},"y":{"field":"y","type":"quantitative","axis":null}}},
{"data":{"name":"boxes"},
"mark":{"type":"point","shape":"square","filled":true,"color":"#000000","opacity":1,"size":256},
"encoding":{"x":{"field":"x","type":"quantitative","axis":null},"y":{"field":"y","type":"quantitative","axis":null}}},
{"data":{"name":"boxes"},
"mark":{"type":"text","font":"DejaVu Sans","fontSize":15,"fontWeight":"bold","color":"#ffffff","align":"center","baseline":"middle"},
"encoding":{"x":{"field":"x","type":"quantitative","axis":null},"y":{"field":"y","type":"quantitative","axis":null},"text":{"field":"sym"}}},
{"data":{"name":"dlabels"},
"transform":[{"filter":"datum.role == 'var'"}],
"mark":{"type":"text","font":"Liberation Serif","fontSize":42,"fontStyle":"italic","align":"right","baseline":"alphabetic","color":"#000"},
"encoding":{"x":{"field":"x","type":"quantitative","axis":null},"y":{"field":"y","type":"quantitative","axis":null},"text":{"field":"text"}}},
{"data":{"name":"dlabels"},
"transform":[{"filter":"datum.role == 'sub'"}],
"mark":{"type":"text","font":"Liberation Serif","fontSize":29,"align":"left","baseline":"alphabetic","color":"#000"},
"encoding":{"x":{"field":"x","type":"quantitative","axis":null},"y":{"field":"y","type":"quantitative","axis":null},"text":{"field":"text"}}},
{"data":{"name":"dlabels"},
"transform":[{"filter":"datum.role == 'delta'"}],
"mark":{"type":"text","font":"Liberation Serif","fontSize":26,"fontStyle":"italic","align":"right","baseline":"alphabetic","color":"#000"},
"encoding":{"x":{"field":"x","type":"quantitative","axis":null},"y":{"field":"y","type":"quantitative","axis":null},"text":{"field":"text"}}},
{"data":{"name":"dlabels"},
"transform":[{"filter":"datum.role == 'subw'"}],
"mark":{"type":"text","font":"Liberation Serif","fontSize":19,"align":"left","baseline":"alphabetic","color":"#000"},
"encoding":{"x":{"field":"x","type":"quantitative","axis":null},"y":{"field":"y","type":"quantitative","axis":null},"text":{"field":"text"}}},
{"data":{"name":"dlabels"},
"transform":[{"filter":"datum.role == 'panel'"}],
"mark":{"type":"text","font":"Liberation Serif","fontSize":30,"fontStyle":"italic","align":"center","baseline":"middle","color":"#000"},
"encoding":{"x":{"field":"x","type":"quantitative","axis":null},"y":{"field":"y","type":"quantitative","axis":null},"text":{"field":"text"}}}
]
}
],
"config":{
"font":"Liberation Serif",
"view":{"stroke":"#000000","strokeWidth":1},
"axis":{"grid":false,"domain":false,"labelFont":"Liberation Serif","labelFontSize":22,"labelColor":"#000","titleFont":"Liberation Serif","titleFontSize":25,"titleFontWeight":"normal","titleColor":"#000","tickColor":"#000","tickSize":5,"titlePadding":3,"labelFlush":false,"labelOverlap":false},
"axisX":{"labelPadding":1},
"axisY":{"labelPadding":2},
"legend":{"labelFont":"Liberation Serif","labelColor":"#000"},
"text":{"font":"Liberation Serif","color":"#000"}
}
}
